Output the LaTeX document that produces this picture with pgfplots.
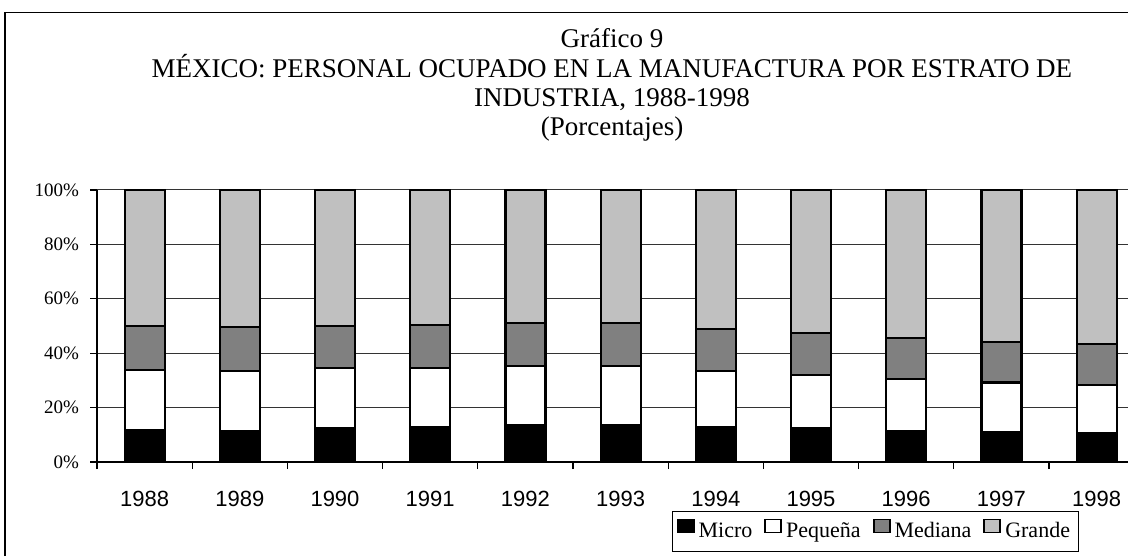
\documentclass[border=0pt]{standalone}
\usepackage{fontspec}
\setmainfont{Liberation Serif}
\newfontfamily\arial{Liberation Sans}
\usepackage{pgfplots}
\usepackage{pgfplotstable}
\pgfplotsset{compat=1.18}

\definecolor{grande}{HTML}{C0C0C0}
\definecolor{mediana}{HTML}{808080}

% shares of employment by firm size, per year (0 = 1988)
\pgfplotstableread{
x  micro peq  med  gr
0  11.8  22.0 16.2 50.0
1  11.5  22.0 16.0 50.5
2  12.6  22.1 15.4 49.9
3  13.0  21.7 15.8 49.5
4  13.4  22.0 15.6 49.0
5  13.4  21.9 15.9 48.8
6  13.0  20.5 15.4 51.1
7  12.6  19.4 15.5 52.5
8  11.5  18.9 15.3 54.3
9  11.1  18.1 14.8 56.0
10 10.5  17.8 15.0 56.7
}\datos

\begin{document}
\begin{tikzpicture}
\useasboundingbox (0pt,0pt) rectangle (564pt,278pt);
% outer frame (cut at the right and bottom in the original)
\draw[line width=0.75pt] (2.5pt,0pt) -- (2.5pt,271.7pt) -- (564pt,271.7pt);

\node[anchor=base, font=\fontsize{13.5}{15}\selectfont] at (306pt,254pt) {Gráfico 9};
\node[anchor=base, font=\fontsize{13.5}{15}\selectfont] at (306pt,239pt) {MÉXICO: PERSONAL OCUPADO EN LA MANUFACTURA POR ESTRATO DE};
\node[anchor=base, font=\fontsize{13.5}{15}\selectfont] at (306pt,224.5pt) {INDUSTRIA, 1988-1998};
\node[anchor=base, font=\fontsize{13.5}{15}\selectfont] at (306pt,210pt) {(Porcentajes)};

\begin{axis}[
  at={(48.5pt,47pt)}, anchor=south west,
  scale only axis, width=515.5pt, height=136pt,
  ybar stacked, bar width=20pt,
  xmin=-0.5, xmax=10.33, ymin=0, ymax=100,
  axis x line*=bottom, axis y line*=left,
  axis line style={line width=0.6pt, -},
  tick align=outside, major tick length=3.5pt,
  tick style={line width=0.6pt, black},
  xtick={-0.5,0.5,...,9.5},
  xticklabels={},
  extra x ticks={0,1,...,10},
  extra x tick labels={1988,1989,1990,1991,1992,1993,1994,1995,1996,1997,1998},
  extra x tick style={major tick length=0pt},
  xticklabel style={font=\arial\fontsize{11}{13}\selectfont, yshift=-11pt},
  ytick={0,20,...,100},
  yticklabels={0\%,20\%,40\%,60\%,80\%,100\%},
  yticklabel style={font=\fontsize{9.5}{11}\selectfont, xshift=-2pt},
  ymajorgrids, grid style={line width=0.5pt, black!80},
  legend style={at={(0.755,-0.18)}, anchor=north, legend columns=4,
    draw=black, line width=0.5pt, font=\fontsize{11}{13}\selectfont,
    inner xsep=2pt, inner ysep=3.5pt,
    /tikz/every odd column/.append style={column sep=0pt},
    /tikz/every even column/.append style={column sep=4pt}},
  legend image code/.code={\draw[#1, draw=black, line width=0.9pt] (0pt,-0.5pt) rectangle (8pt,6pt);},
  every axis plot/.append style={draw=black, line width=1.1pt},
]
\addplot[fill=black] table[x=x, y=micro] {\datos};
\addplot[fill=white] table[x=x, y=peq] {\datos};
\addplot[fill=mediana] table[x=x, y=med] {\datos};
\addplot[fill=grande] table[x=x, y=gr] {\datos};
\legend{Micro,Pequeña,Mediana,Grande}
\end{axis}
\end{tikzpicture}
\end{document}
